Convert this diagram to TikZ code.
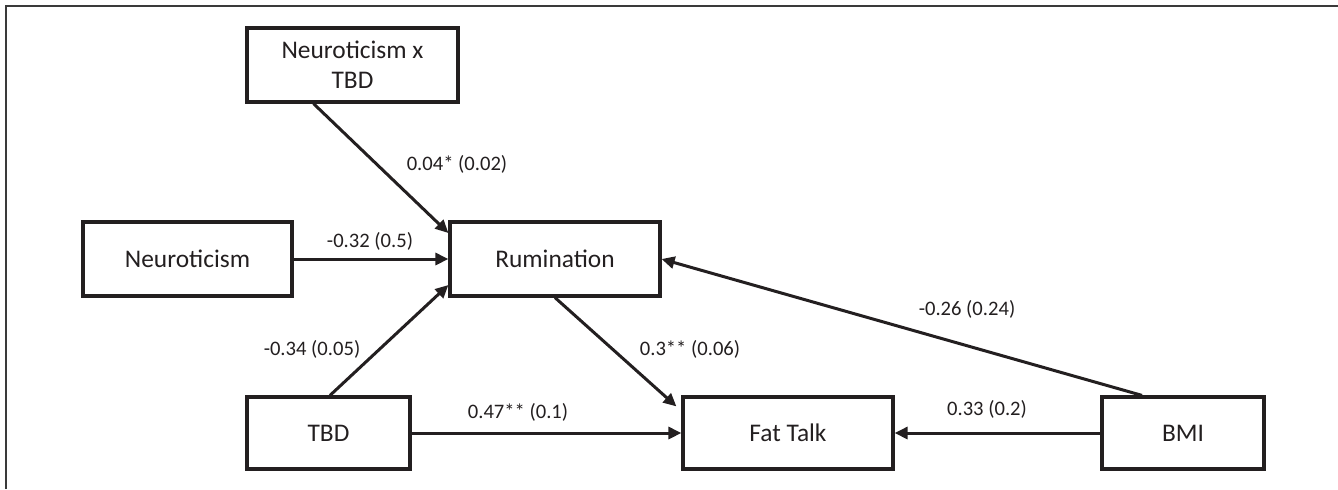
\documentclass[tikz,border=0pt]{standalone}
\usepackage{fontspec}
\setmainfont{Carlito}
\usetikzlibrary{arrows.meta,calc}
\definecolor{ink}{HTML}{231F20}
\definecolor{framec}{HTML}{3A3A3A}
\tikzset{
  varbox/.style={draw=ink, line width=1.6pt, rectangle, inner sep=0pt, align=center,
    font=\fontsize{12.7pt}{15pt}\selectfont, text=ink},
  pathlbl/.style={inner sep=0pt, font=\fontsize{10.3pt}{12pt}\selectfont, text=ink},
  conn/.style={draw=ink, line width=1.5pt, -{Triangle[length=6.5pt,width=6pt]}}
}
\begin{document}
\begin{tikzpicture}[x=0.5pt,y=-0.5pt]
\useasboundingbox (0,0) rectangle (1338,489);
% frame (top and left only)
\draw[framec, line width=1pt] (5.5,489) -- (5.5,5.5) -- (1338,5.5);
% boxes
\node[varbox, minimum width=105.5pt, minimum height=37pt] (nxt) at (352.5,65) {Neuroticism x\\TBD};
\node[varbox, minimum width=104.5pt, minimum height=37pt] (neu) at (187.5,259) {Neuroticism};
\node[varbox, minimum width=105pt, minimum height=37pt] (rum) at (555,259) {Rumination};
\node[varbox, minimum width=81.5pt, minimum height=36pt] (tbd) at (328.5,433) {TBD};
\node[varbox, minimum width=105pt, minimum height=36pt] (fat) at (788,433) {Fat Talk};
\node[varbox, minimum width=81pt, minimum height=36pt] (bmi) at (1183,433) {BMI};
% connectors
\draw[conn] ($(nxt.south)+(-39,0)$) -- ($(rum.west)+(0,-26)$);
\draw[conn] (neu.east) -- (rum.west);
\draw[conn] ($(tbd.north)+(1.5,0)$) -- ($(rum.west)+(0,26)$);
\draw[conn] (rum.south) -- ($(fat.north west)+(-5,11)$);
\draw[conn] (tbd.east) -- (fat.west);
\draw[conn] (bmi.west) -- (fat.east);
\draw[conn] ($(bmi.north)+(-41,0)$) -- (rum.east);
% labels
\node[pathlbl] (l1) at (457,164) {0.04* (0.02)};
\node[pathlbl] (l2) at (370,241) {-0.32 (0.5)};
\node[pathlbl] (l3) at (312,349) {-0.34 (0.05)};
\node[pathlbl] (l4) at (690,349) {0.3** (0.06)};
\node[pathlbl] (l5) at (518,412) {0.47** (0.1)};
\node[pathlbl] (l6) at (987,409) {0.33 (0.2)};
\node[pathlbl] (l7) at (967,309) {-0.26 (0.24)};
\end{tikzpicture}
\end{document}
